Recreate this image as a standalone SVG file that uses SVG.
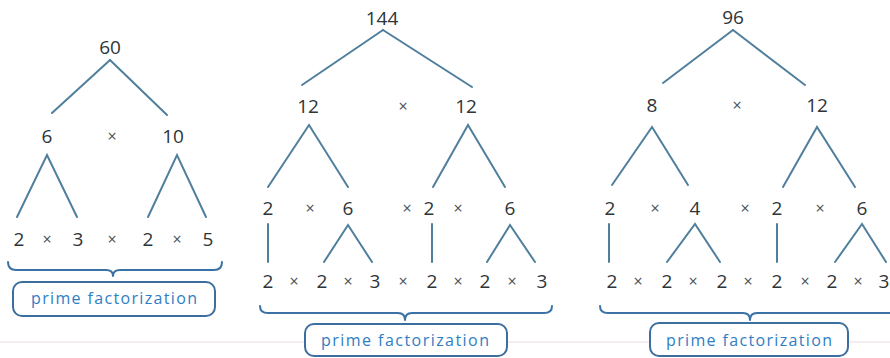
<svg xmlns="http://www.w3.org/2000/svg" width="890" height="358" viewBox="0 0 890 358">
<style>
.n{font-family:"Open Sans","Liberation Sans",sans-serif;font-size:19px;fill:#2e3438;text-anchor:middle}
.x{font-family:"Open Sans","Liberation Sans",sans-serif;font-size:16px;fill:#4a5258;text-anchor:middle}
.c line,.c path{stroke:#4f7f9c;stroke-width:2;fill:none;stroke-linecap:round}
.br{stroke:#3a72a6;stroke-width:2;fill:none;stroke-linecap:round;stroke-linejoin:round}
.bx{stroke:#3c6e9e;stroke-width:2;fill:#fff}
.pf{font-family:"Open Sans","Liberation Sans",sans-serif;font-size:16px;fill:#2f7ec4;text-anchor:middle}
</style>
<line x1="0" y1="342" x2="890" y2="342" stroke="#efd9e4" stroke-width="1"/>
<g class="c" id="connectors">
<line x1="110" y1="60" x2="52" y2="113"/><line x1="110" y1="60" x2="167" y2="115"/>
<path d="M17,217 L47,155 L77,217"/><path d="M148,217 L177,155 L206,217"/>
<line x1="383" y1="30" x2="302" y2="85"/><line x1="383" y1="30" x2="472" y2="87"/>
<path d="M268,187 L309,125 L348,187"/><path d="M433,187 L468,125 L505,187"/>
<line x1="268" y1="224" x2="268" y2="262"/><line x1="432" y1="224" x2="432" y2="262"/>
<path d="M324,262 L348,225 L372,262"/><path d="M487,262 L510,225 L535,262"/>
<line x1="733" y1="30" x2="663" y2="83"/><line x1="733" y1="30" x2="805" y2="85"/>
<path d="M612,185 L652,127 L688,185"/><path d="M783,187 L817,127 L855,187"/>
<line x1="609" y1="224" x2="609" y2="262"/><line x1="777" y1="224" x2="777" y2="262"/>
<path d="M667,262 L695,224 L720,262"/><path d="M835,262 L862,224 L886,262"/>
</g>
<g id="tree1">
<g id="t1-60"><text class="n" x="110" y="54">60</text></g>
<g id="t1-6"><text class="n" x="47" y="143">6</text></g>
<g id="t1-10"><text class="n" x="173" y="143">10</text></g>
<text class="x" x="112" y="142">×</text>
<g id="t1-row3">
<text class="n" x="19" y="246">2</text><text class="x" x="47" y="245">×</text>
<text class="n" x="78" y="246">3</text><text class="x" x="112" y="245">×</text>
<text class="n" x="148" y="246">2</text><text class="x" x="177" y="245">×</text>
<text class="n" x="208" y="246">5</text>
</g>
</g>
<g id="tree2">
<g id="t2-144"><text class="n" x="382" y="25">144</text></g>
<g id="t2-12a"><text class="n" x="308" y="113">12</text></g>
<g id="t2-12b"><text class="n" x="466" y="113">12</text></g>
<text class="x" x="403" y="112">×</text>
<g id="t2-row3">
<text class="n" x="268" y="215">2</text><text class="x" x="310" y="214">×</text>
<text class="n" x="348" y="215">6</text><text class="x" x="407" y="214">×</text>
<text class="n" x="429" y="215">2</text><text class="x" x="458" y="214">×</text>
<text class="n" x="510" y="215">6</text>
</g>
<g id="t2-row4">
<text class="n" x="268" y="288">2</text><text class="x" x="294" y="287">×</text>
<text class="n" x="322" y="288">2</text><text class="x" x="348" y="287">×</text>
<text class="n" x="375" y="288">3</text><text class="x" x="403" y="287">×</text>
<text class="n" x="432" y="288">2</text><text class="x" x="458" y="287">×</text>
<text class="n" x="485" y="288">2</text><text class="x" x="512" y="287">×</text>
<text class="n" x="542" y="288">3</text>
</g>
</g>
<g id="tree3">
<g id="t3-96"><text class="n" x="733" y="24">96</text></g>
<g id="t3-8"><text class="n" x="652" y="112">8</text></g>
<g id="t3-12"><text class="n" x="817" y="112">12</text></g>
<text class="x" x="737" y="111">×</text>
<g id="t3-row3">
<text class="n" x="610" y="215">2</text><text class="x" x="655" y="214">×</text>
<text class="n" x="695" y="215">4</text><text class="x" x="745" y="214">×</text>
<text class="n" x="777" y="215">2</text><text class="x" x="820" y="214">×</text>
<text class="n" x="862" y="215">6</text>
</g>
<g id="t3-row4">
<text class="n" x="612" y="288">2</text><text class="x" x="638" y="287">×</text>
<text class="n" x="667" y="288">2</text><text class="x" x="693" y="287">×</text>
<text class="n" x="722" y="288">2</text><text class="x" x="748" y="287">×</text>
<text class="n" x="777" y="288">2</text><text class="x" x="805" y="287">×</text>
<text class="n" x="832" y="288">2</text><text class="x" x="858" y="287">×</text>
<text class="n" x="884" y="288">3</text>
</g>
</g>
<g id="label1">
<path class="br" d="M8,262 Q8,270 16,270 H106 Q113,270 113,276 Q113,270 120,270 H214 Q222,270 222,262"/>
<rect class="bx" x="13" y="282" width="202" height="34" rx="9"/>
<text class="pf" x="114" y="304" textLength="166" lengthAdjust="spacing">prime factorization</text>
</g>
<g id="label2">
<path class="br" d="M260,306 Q260,313 268,313 H398 Q405,313 405,320 Q405,313 412,313 H544 Q552,313 552,306"/>
<rect class="bx" x="305" y="324" width="202" height="32" rx="9"/>
<text class="pf" x="405" y="346" textLength="168" lengthAdjust="spacing">prime factorization</text>
</g>
<g id="label3">
<path class="br" d="M600,306 Q600,313 608,313 H743 Q750,313 750,320 Q750,313 757,313 H892"/>
<rect class="bx" x="650" y="323" width="198" height="33" rx="9"/>
<text class="pf" x="749" y="346" textLength="166" lengthAdjust="spacing">prime factorization</text>
</g>
</svg>
